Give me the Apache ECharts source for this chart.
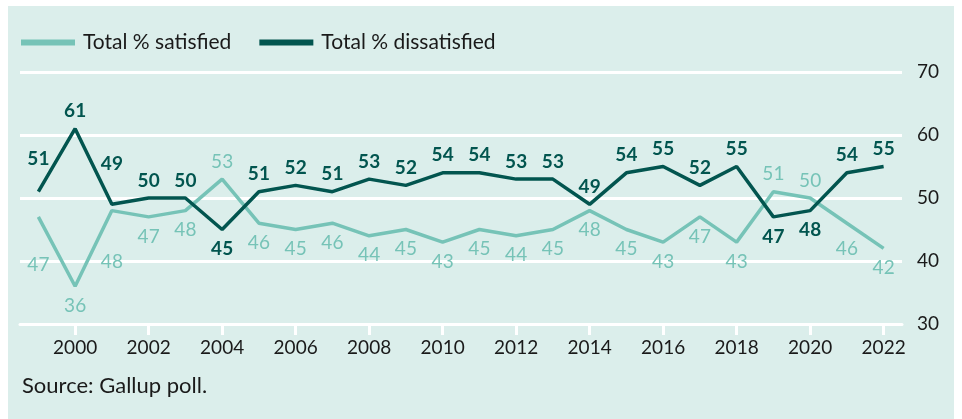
<!DOCTYPE html>
<html><head><meta charset="utf-8">
<script src="https://cdn.jsdelivr.net/npm/echarts@6/dist/echarts.min.js"></script>
<style>html,body{margin:0;padding:0;background:#fff}#c{width:962px;height:419px}</style>
</head><body><div id="c"></div>
<script>
const years = ['1999','2000','2001','2002','2003','2004','2005','2006','2007','2008','2009','2010','2011','2012','2013','2014','2015','2016','2017','2018','2019','2020','2021','2022'];
const satisfied = [47,36,48,47,48,53,46,45,46,44,45,43,45,44,45,48,45,43,47,43,51,50,46,42];
const dissatisfied = [51,61,49,50,50,45,51,52,51,53,52,54,54,53,53,49,54,55,52,55,47,48,54,55];
const yTicks = [30,40,50,60,70];
const seriesNames = ['Total % satisfied','Total % dissatisfied'];
const colors = ['#76c3b7','#02554f'];
const FONT = 'Lato';
// extra label distance for crowded points (style only)
const extraDist = {'1999':[28,15],'2001':[32,23],'2021':[6,0]};

function buildData(vals, other, sIdx) {
  return vals.map((v, i) => {
    const above = v > other[i];
    const ex = extraDist[years[i]] ? extraDist[years[i]][sIdx] : 0;
    return {value: v, label: {position: above ? 'top' : 'bottom', distance: (above ? 8 : 10) + ex}};
  });
}

const chart = echarts.init(document.getElementById('c'));
chart.setOption({
  backgroundColor: '#ffffff',
  animation: false,
  textStyle: {fontFamily: FONT},
  graphic: [{type: 'rect', z: -100, silent: true, shape: {x: 8, y: 6, width: 946, height: 413}, style: {fill: '#dbeeeb'}},
    {type: 'text', left: 22, top: 375, style: {text: 'Source: Gallup poll.', font: '22px ' + FONT, fill: '#1a1a1a'}}],
  legend: {
    left: 16, top: 27, itemWidth: 54, itemHeight: 6, itemGap: 28, icon: 'rect',
    textStyle: {fontSize: 21, color: '#1a1a1a', fontFamily: FONT, padding: [0,0,0,3]},
    data: seriesNames
  },
  grid: {left: 20, right: 60, top: 72, bottom: 95, outerBoundsMode: 'none'},
  xAxis: {
    type: 'category', data: years, boundaryGap: true, z: 5,
    axisLine: {show: true, lineStyle: {color: '#ffffff', width: 3}},
    axisTick: {show: true, alignWithLabel: true, length: 11, lineStyle: {color: '#ffffff', width: 3},
      interval: 'auto'},
    axisLabel: {interval: (i) => i % 2 === 1, fontSize: 19, color: '#1a1a1a', margin: 14, fontFamily: FONT}
  },
  yAxis: {
    type: 'value', position: 'right', min: yTicks[0], max: yTicks[yTicks.length-1], interval: 10,
    axisLine: {show: false}, axisTick: {show: false},
    axisLabel: {fontSize: 19, color: '#1a1a1a', margin: 15, fontFamily: FONT},
    splitLine: {lineStyle: {color: '#ffffff', width: 3}}
  },
  series: [
    {name: seriesNames[0], type: 'line', data: buildData(satisfied, dissatisfied, 0),
      symbol: 'circle', symbolSize: 0, showSymbol: true, lineStyle: {width: 3.5, color: colors[0]}, itemStyle: {color: colors[0]},
      label: {show: true, fontSize: 19, color: colors[0], fontFamily: FONT}},
    {name: seriesNames[1], type: 'line', data: buildData(dissatisfied, satisfied, 1),
      symbol: 'circle', symbolSize: 0, showSymbol: true, lineStyle: {width: 3.5, color: colors[1]}, itemStyle: {color: colors[1]},
      label: {show: true, fontSize: 19, color: colors[1], fontWeight: 'bold', fontFamily: FONT}}
  ]
});
</script></body></html>
